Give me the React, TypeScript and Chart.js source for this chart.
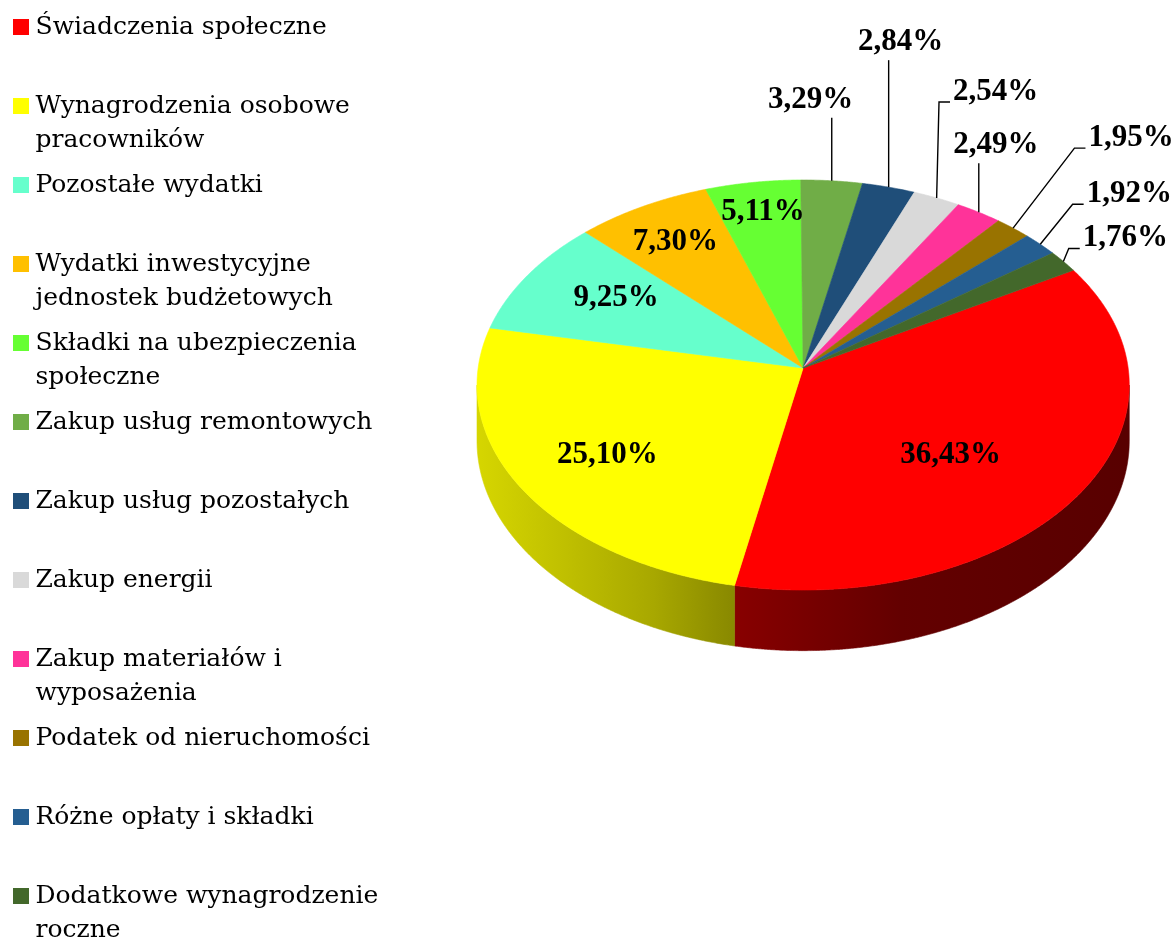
import React, { useEffect, useRef } from 'react';
import { Chart, registerables } from 'chart.js';

Chart.register(...registerables);

// ---- data ----
const categories: string[][] = [
  ['Świadczenia społeczne'],
  ['Wynagrodzenia osobowe', 'pracowników'],
  ['Pozostałe wydatki'],
  ['Wydatki inwestycyjne', 'jednostek budżetowych'],
  ['Składki na ubezpieczenia', 'społeczne'],
  ['Zakup usług remontowych'],
  ['Zakup usług pozostałych'],
  ['Zakup energii'],
  ['Zakup materiałów i', 'wyposażenia'],
  ['Podatek od nieruchomości'],
  ['Różne opłaty i składki'],
  ['Dodatkowe wynagrodzenie', 'roczne'],
];
const shares = [36.43, 25.1, 9.25, 7.3, 5.11, 3.29, 2.84, 2.54, 2.49, 1.95, 1.92, 1.76];
const colors = [
  '#FF0000', '#FFFF00', '#66FFCC', '#FFC000', '#66FF33', '#70AD47',
  '#1F4E79', '#D9D9D9', '#FF3399', '#997300', '#255E91', '#43682B',
];
// label placement relative to its anchor (inside: 70% radius, outside: rim), px
const labelOffsets: [number, number][] = [
  [-44, 1], [0, 5], [8, -4], [-13, -11], [-4, -23],
  [-21, -81], [12, -145], [59, -106], [17, -67], [118, -90], [89, -50], [62, -23],
];

// ---- 3D look ----
const PERSPECTIVE = 0.083;
const TILT = 0.6265;
const DEPTH = 0.171;
const WALL_SHADE: [number, number][] = [
  [0, 0.84], [0.12, 0.76], [0.27, 0.66], [0.4, 0.53], [0.65, 0.39], [1, 0.345],
];

const CANVAS_W = 1218;
const CANVAS_H = 1000;

const fmt = (v: number) => v.toFixed(2).replace('.', ',') + '%';

function hexToRgb(h: string) {
  const n = parseInt(h.slice(1), 16);
  return [(n >> 16) & 255, (n >> 8) & 255, n & 255];
}

function project(cx: number, cy: number, R: number, ang: number, r: number) {
  const u = r * Math.cos(ang);
  const v = r * Math.sin(ang);
  const w = 1 - PERSPECTIVE * v;
  return { x: cx + (R * u) / w, y: cy + (R * TILT * v) / w, w };
}

const pie3d = {
  id: 'pie3d',
  beforeDatasetsDraw(chart: any) {
    const ctx: CanvasRenderingContext2D = chart.ctx;
    const meta = chart.getDatasetMeta(0);
    const arcs = meta.data as any[];
    if (!arcs.length) return false;
    const cx = arcs[0].x;
    const cy = arcs[0].y;
    const R = arcs[0].outerRadius;
    const depth = R * DEPTH;
    const step = Math.PI / 720;

    const rimPts = (a0: number, a1: number) => {
      const pts: { x: number; y: number; w: number }[] = [];
      const n = Math.max(2, Math.ceil((a1 - a0) / step));
      for (let k = 0; k <= n; k++) pts.push(project(cx, cy, R, a0 + ((a1 - a0) * k) / n, 1));
      return pts;
    };

    ctx.save();
    // ---- side walls (front half only) ----
    const tR = Math.asin(PERSPECTIVE);
    const tL = Math.PI - tR;
    const halfW = R / Math.sqrt(1 - PERSPECTIVE * PERSPECTIVE);
    arcs.forEach((arc, i) => {
      for (const k of [-1, 0, 1]) {
        const lo = Math.max(arc.startAngle, tR + 2 * Math.PI * k);
        const hi = Math.min(arc.endAngle, tL + 2 * Math.PI * k);
        if (hi <= lo) continue;
        const top = rimPts(lo, hi);
        const [r, g, b] = hexToRgb(colors[i]);
        const grad = ctx.createLinearGradient(cx - halfW, 0, cx + halfW, 0);
        WALL_SHADE.forEach(([t, f]) =>
          grad.addColorStop(t, `rgb(${Math.round(r * f)},${Math.round(g * f)},${Math.round(b * f)})`)
        );
        ctx.beginPath();
        top.forEach((p, j) => (j ? ctx.lineTo(p.x, p.y) : ctx.moveTo(p.x, p.y)));
        for (let j = top.length - 1; j >= 0; j--) ctx.lineTo(top[j].x, top[j].y + depth / top[j].w);
        ctx.closePath();
        ctx.fillStyle = grad;
        ctx.fill();
        ctx.strokeStyle = grad;
        ctx.lineWidth = 0.6;
        ctx.stroke();
      }
    });

    // ---- top face ----
    arcs.forEach((arc, i) => {
      const pts = rimPts(arc.startAngle, arc.endAngle);
      ctx.beginPath();
      ctx.moveTo(cx, cy);
      pts.forEach((p) => ctx.lineTo(p.x, p.y));
      ctx.closePath();
      ctx.fillStyle = colors[i];
      ctx.fill();
      ctx.strokeStyle = colors[i];
      ctx.lineWidth = 0.6;
      ctx.stroke();
    });

    // ---- data labels ----
    ctx.font = 'bold 31px "Liberation Serif"';
    ctx.textAlign = 'center';
    ctx.textBaseline = 'middle';
    ctx.fillStyle = '#000';
    ctx.strokeStyle = '#000';
    ctx.lineWidth = 1.4;
    arcs.forEach((arc, i) => {
      const mid = (arc.startAngle + arc.endAngle) / 2;
      const inside = shares[i] >= 5;
      const anchor = project(cx, cy, R, mid, inside ? 0.7 : 1);
      const [dx, dy] = labelOffsets[i];
      const lx = anchor.x + dx;
      const ly = anchor.y + dy;
      const text = fmt(shares[i]);
      ctx.fillText(text, lx, ly);
      if (!inside) {
        const w = ctx.measureText(text).width;
        const left = lx - w / 2;
        const right = lx + w / 2;
        ctx.beginPath();
        if (anchor.x > left + 4 && anchor.x < right - 4) {
          ctx.moveTo(anchor.x, ly + 18);
          ctx.lineTo(anchor.x, anchor.y);
        } else {
          const yb = ly + 10;
          ctx.moveTo(left - 3, yb);
          ctx.lineTo(left - 14, yb);
          ctx.lineTo(anchor.x, anchor.y);
        }
        ctx.stroke();
      }
    });
    ctx.restore();
    return false;
  },
};

export default function App() {
  const ref = useRef<HTMLCanvasElement | null>(null);
  useEffect(() => {
    if (!ref.current) return;
    const chart = new Chart(ref.current, {
      type: 'pie',
      data: {
        labels: categories.map((c) => c.join(' ')),
        datasets: [
          {
            data: shares,
            backgroundColor: colors,
            borderWidth: 0,
          },
        ],
      },
      options: {
        responsive: false,
        animation: false,
        events: [],
        rotation: 60,
        radius: 325,
        layout: { padding: { left: 9, top: 4.5, right: 0, bottom: 0 } },
        plugins: {
          tooltip: { enabled: false },
          title: {
            display: true,
            text: ' ',
            position: 'bottom',
            fullSize: false,
            font: { size: 10, lineHeight: 1 },
            padding: { top: 258.5, bottom: 0 },
          },
          legend: {
            position: 'left',
            align: 'start',
            labels: {
              color: '#000',
              font: { family: '"DejaVu Serif"', size: 25, lineHeight: 1.38 },
              usePointStyle: true,
              boxWidth: 4,
              boxHeight: 16,
              padding: 10,
              generateLabels: () =>
                categories.map((lines, i) => ({
                  text: lines.length > 1 ? lines : [lines[0], ''],
                  fillStyle: colors[i],
                  strokeStyle: colors[i],
                  lineWidth: 0,
                  pointStyle: 'rect',
                  hidden: false,
                  index: i,
                })),
            },
          },
        },
      } as any,
      plugins: [pie3d],
    });
    return () => chart.destroy();
  }, []);
  return (
    <div
      style={{
        position: 'fixed',
        left: 0,
        top: 0,
        width: 1176,
        height: 940,
        overflow: 'hidden',
        background: '#fff',
      }}
    >
      <canvas ref={ref} width={CANVAS_W} height={CANVAS_H} style={{ display: 'block' }} />
    </div>
  );
}
